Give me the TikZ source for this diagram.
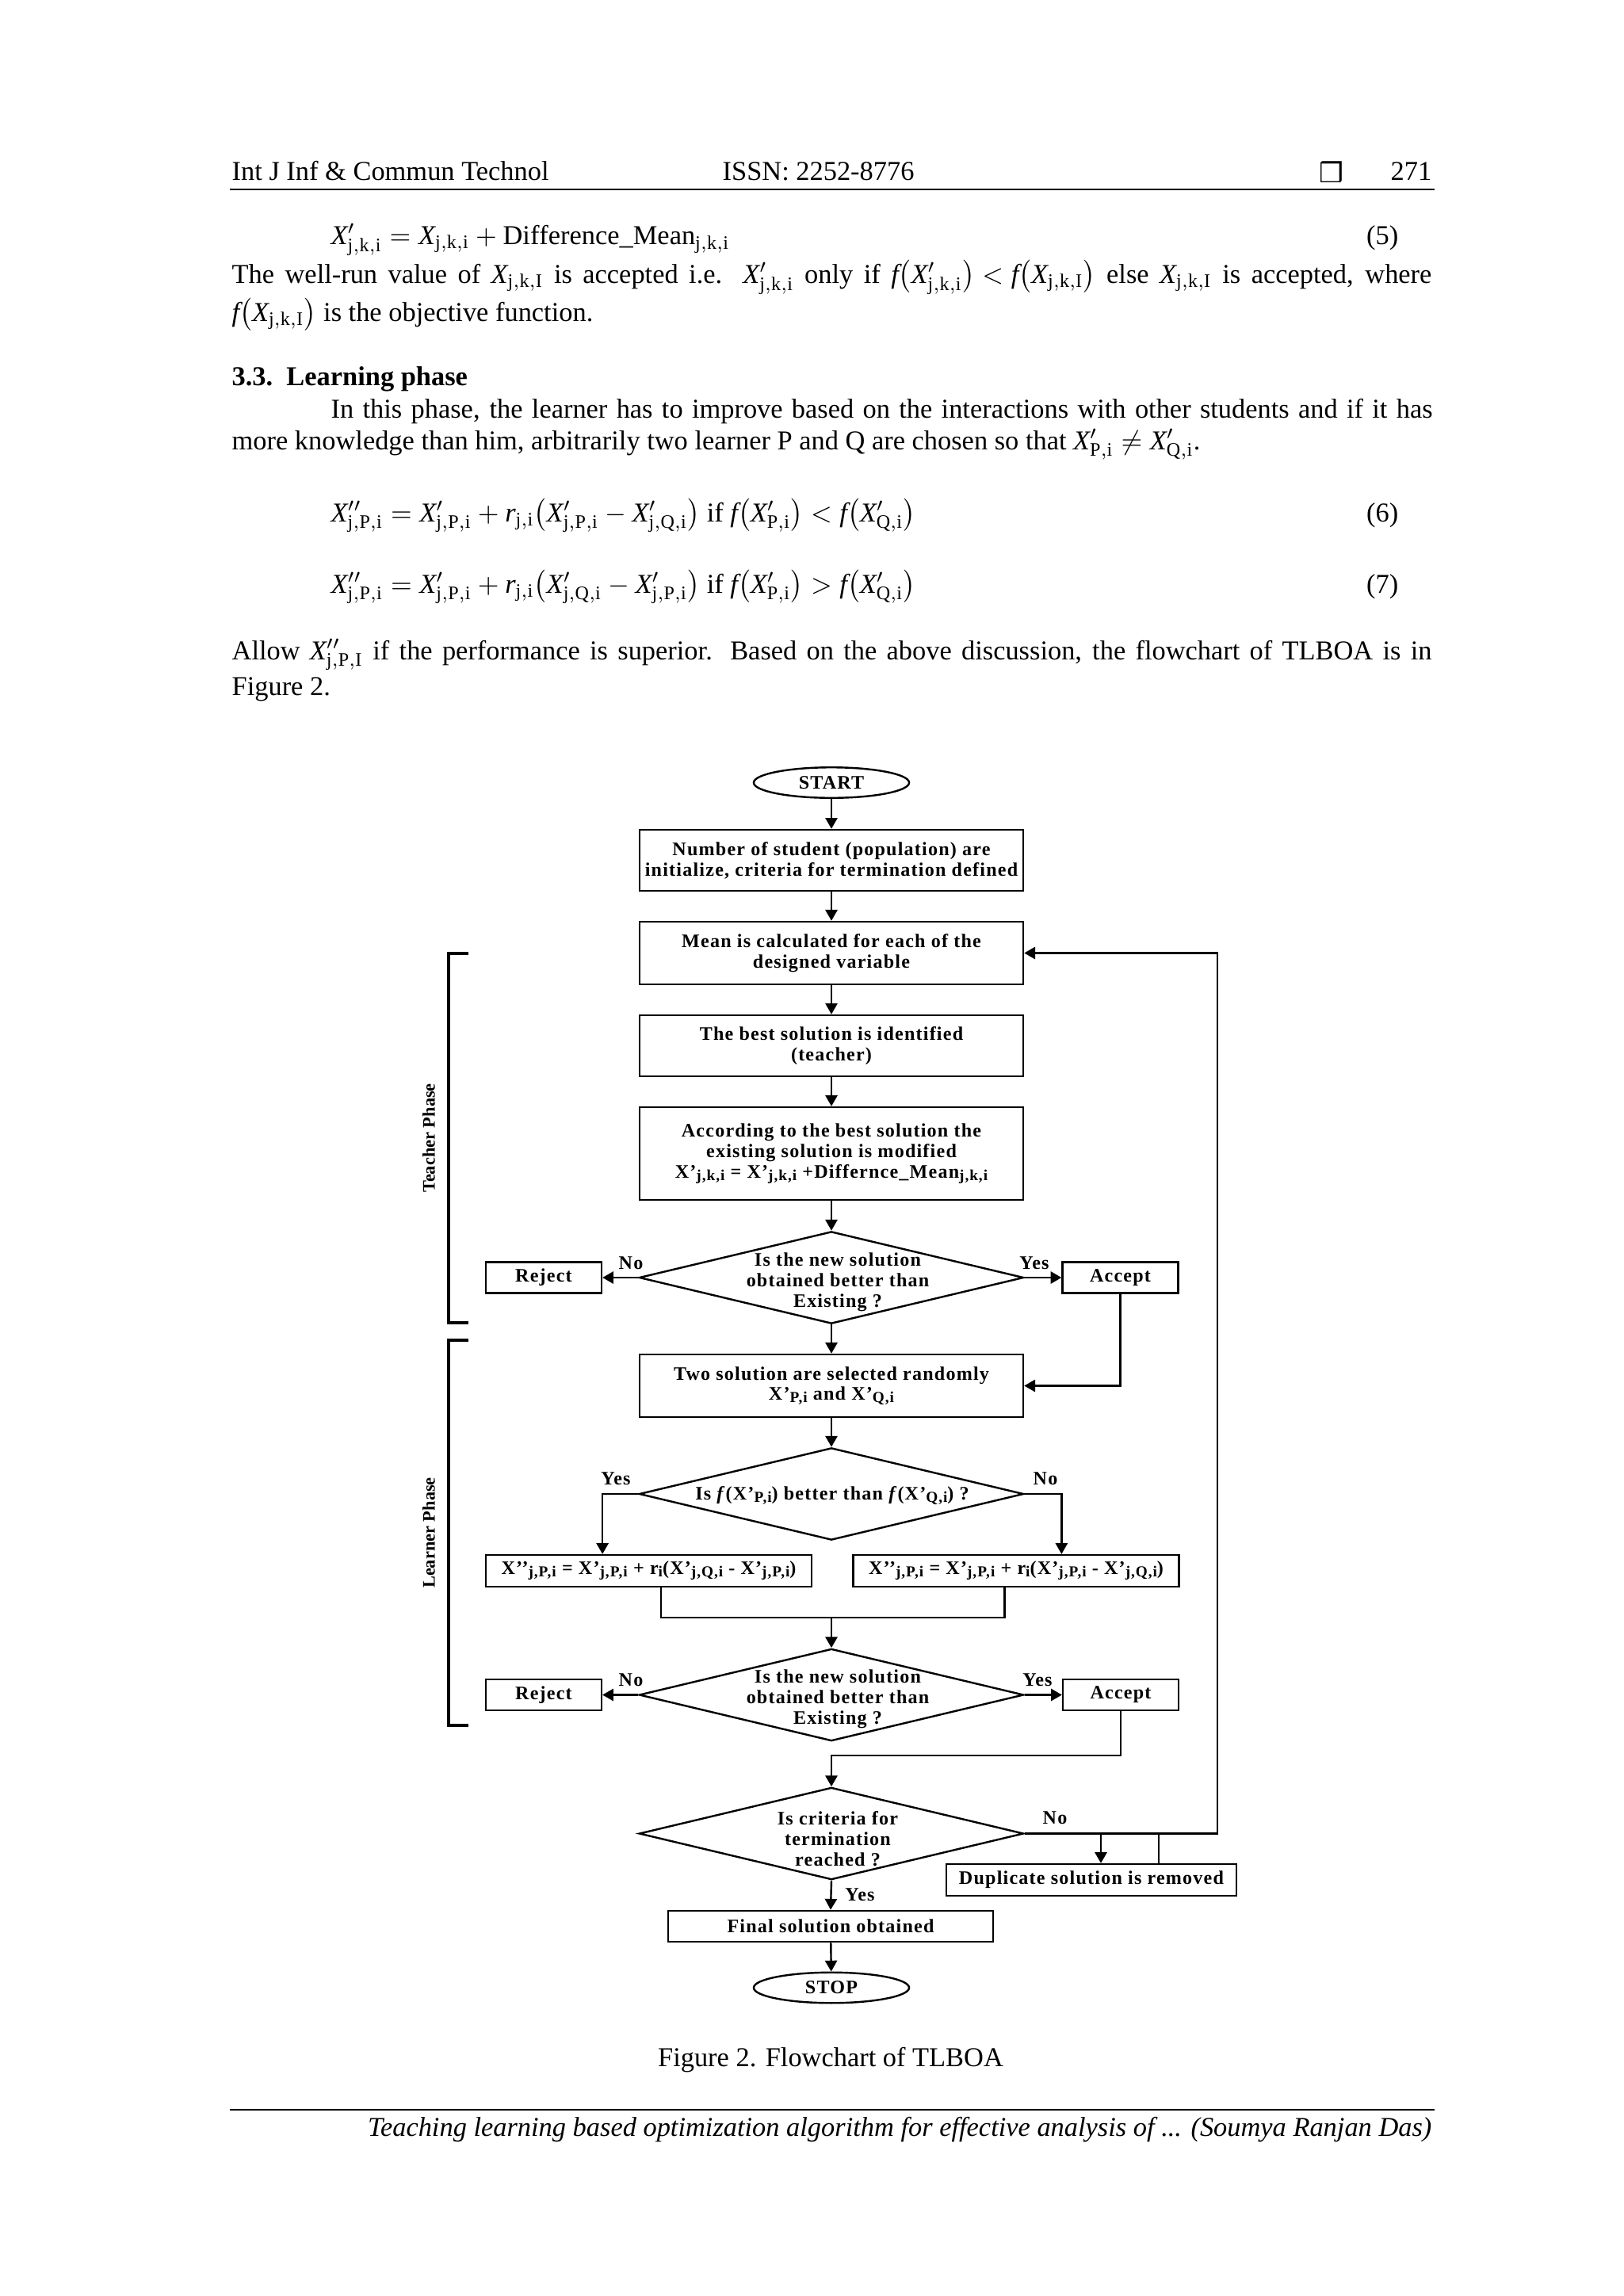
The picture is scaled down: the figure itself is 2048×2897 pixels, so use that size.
\documentclass[tikz,border=0pt]{standalone}
\usepackage{fontspec}
\setmainfont{Liberation Serif}
\newfontfamily\fcfont[LetterSpace=5]{Liberation Serif}
\newfontfamily\symfont{DejaVu Sans}
\usetikzlibrary{arrows.meta,calc,shapes.geometric}
\newcommand\fsb[1]{\raisebox{-0.8pt}{\fontsize{5.6}{6}\selectfont #1}}
\newcommand\mX{\mathit{X}}
\newcommand\mf{\mathit{f}}
\newcommand\mr{\mathit{r}}
\newcommand\lineclip[1]{\raisebox{0pt}[7pt][2pt]{#1}}
\begin{document}
\begin{tikzpicture}[x=0.29067pt,y=-0.29067pt,
  fc/.style={font=\fcfont\bfseries\fontsize{7}{7.5}\selectfont, align=center, inner sep=0pt},
  box/.style={fc, draw, line width=0.7pt},
  dia/.style={shape=diamond, draw, line width=0.7pt, inner sep=0pt, minimum width=141pt, minimum height=33.8pt},
  term/.style={fc, shape=ellipse, draw, line width=0.7pt, minimum width=57pt, minimum height=11.2pt},
  arr/.style={-{Triangle[length=4pt,width=4.4pt]}, line width=0.7pt},
  ln/.style={line width=0.7pt},
  body/.style={font=\fontsize{10}{12}\selectfont, inner sep=0pt, anchor=base west},
  brk/.style={line width=0.9pt}
]
\fill[white] (0,0) rectangle (2048,2897);
\useasboundingbox (0,0) rectangle (2048,2897);

% ---------- header ----------
\node[body] (h1) at (292,227) {Int J Inf \& Commun Technol};
\node[body] (h2) at (911,227) {ISSN: 2252-8776};
\node[font=\symfont\fontsize{10}{12}\selectfont, inner sep=0pt] (h3) at (1680,217) {❒};
\node[body, anchor=base east] (h4) at (1807,227) {271};
\draw[line width=0.8pt] (290,239) -- (1810,239);

% ---------- text ----------
\node[body] (e5) at (417,308) {\lineclip{$\mX'_{\mathrm{j,k,i}} = \mX_{\mathrm{j,k,i}} + \mathrm{Difference\_Mean}_{\mathrm{j,k,i}}$}};
\node[body, anchor=base east] (n5) at (1765,308) {(5)};
\node[body] (t1) at (292,357) {\lineclip{\makebox[440pt][s]{The well-run value of \mbox{$\mX_{\mathrm{j,k,I}}$} is accepted i.e. \mbox{$\mX'_{\mathrm{j,k,i}}$} only if \mbox{$\mf\bigl(\mX'_{\mathrm{j,k,i}}\bigr) < \mf\bigl(\mX_{\mathrm{j,k,I}}\bigr)$} else \mbox{$\mX_{\mathrm{j,k,I}}$} is accepted, where}}};
\node[body] (t2) at (292,405) {\lineclip{$\mf\bigl(\mX_{\mathrm{j,k,I}}\bigr)$ is the objective function.}};
\node[body] (t3) at (292,486) {\textbf{3.3.\ \ Learning phase}};
\node[body] (t4) at (417,527) {\makebox[404pt][s]{In this phase, the learner has to improve based on the interactions with other students and if it has}};
\node[body] (t5) at (292,567) {\lineclip{more knowledge than him, arbitrarily two learner P and Q are chosen so that $\mX'_{\mathrm{P,i}} \neq \mX'_{\mathrm{Q,i}}$.}};
\node[body] (e6) at (417,658) {\lineclip{$\mX''_{\mathrm{j,P,i}} = \mX'_{\mathrm{j,P,i}} + \mr_{\mathrm{j,i}}\bigl(\mX'_{\mathrm{j,P,i}} - \mX'_{\mathrm{j,Q,i}}\bigr)$ if $\mf\bigl(\mX'_{\mathrm{P,i}}\bigr) < \mf\bigl(\mX'_{\mathrm{Q,i}}\bigr)$}};
\node[body, anchor=base east] (n6) at (1765,658) {(6)};
\node[body] (e7) at (417,748) {\lineclip{$\mX''_{\mathrm{j,P,i}} = \mX'_{\mathrm{j,P,i}} + \mr_{\mathrm{j,i}}\bigl(\mX'_{\mathrm{j,Q,i}} - \mX'_{\mathrm{j,P,i}}\bigr)$ if $\mf\bigl(\mX'_{\mathrm{P,i}}\bigr) > \mf\bigl(\mX'_{\mathrm{Q,i}}\bigr)$}};
\node[body, anchor=base east] (n7) at (1765,748) {(7)};
\node[body] (t6) at (292,832) {\lineclip{\makebox[440pt][s]{Allow \mbox{$\mX''_{\mathrm{j,P,I}}$} if the performance is superior. Based on the above discussion, the flowchart of TLBOA is in}}};
\node[body] (t7) at (292,877) {Figure 2.};

% ---------- flowchart ----------
\node[term] (start) at (1049,987.5) {START};
\node[box, minimum width=140.7pt, minimum height=22.4pt] (b1) at (1049,1085.5) {Number of student (population) are\\initialize, criteria for termination defined};
\node[box, minimum width=140.7pt, minimum height=23pt] (b2) at (1049,1202.5) {Mean is calculated for each of the\\designed variable};
\node[box, minimum width=140.7pt, minimum height=22.4pt] (b3) at (1049,1319.5) {The best solution is identified\\(teacher)};
\node[box, minimum width=140.7pt, minimum height=34pt] (b4) at (1049,1455.5) {According to the best solution the\\existing solution is modified\\X’\fsb{j,k,i} = X’\fsb{j,k,i} +Differnce\_Mean\fsb{j,k,i}};
\node[dia] (d1) at (1049,1612) {};
\node[fc] (d1t) at (1057,1618) {Is the new solution\\obtained better than\\Existing ?};
\node[box, minimum width=42.4pt, minimum height=11.4pt] (rej1) at (686,1612) {Reject};
\node[box, minimum width=42.4pt, minimum height=11.4pt] (acc1) at (1413.5,1612) {Accept};
\node[box, minimum width=140.7pt, minimum height=23pt] (b5) at (1049,1748.5) {Two solution are selected randomly\\X’\fsb{P,i} and X’\fsb{Q,i}};
\node[dia] (d2) at (1049,1885) {};
\node[fc] (d2t) at (1050,1887) {Is \textit{f}(X’\fsb{P,i}) better than \textit{f}(X’\fsb{Q,i}) ?};
\node[box, minimum width=119.4pt, minimum height=11.6pt] (b6) at (818.5,1982) {X’’\fsb{j,P,i} = X’\fsb{j,P,i} + r\fsb{i}(X’\fsb{j,Q,i} - X’\fsb{j,P,i})};
\node[box, minimum width=119.4pt, minimum height=11.6pt] (b7) at (1282,1982) {X’’\fsb{j,P,i} = X’\fsb{j,P,i} + r\fsb{i}(X’\fsb{j,P,i} - X’\fsb{j,Q,i})};
\node[dia] (d3) at (1049,2138.5) {};
\node[fc] (d3t) at (1057,2144) {Is the new solution\\obtained better than\\Existing ?};
\node[box, minimum width=42.4pt, minimum height=11.4pt] (rej2) at (686,2138.5) {Reject};
\node[box, minimum width=42.4pt, minimum height=11.4pt] (acc2) at (1414,2138.5) {Accept};
\node[dia] (d4) at (1049,2313.5) {};
\node[fc] (d4t) at (1057,2320) {Is criteria for\\termination\\reached ?};
\node[box, minimum width=106.4pt, minimum height=11.6pt] (dup) at (1377,2372) {Duplicate solution is removed};
\node[box, minimum width=119.2pt, minimum height=11.4pt] (fin) at (1048,2430.5) {Final solution obtained};
\node[term] (stop) at (1049,2508) {STOP};

% labels
\node[fc] (l1) at (796,1594) {No};
\node[fc] (l2) at (1305,1594) {Yes};
\node[fc] (l3) at (777,1866) {Yes};
\node[fc] (l4) at (1319,1866) {No};
\node[fc] (l5) at (796,2120) {No};
\node[fc] (l6) at (1309,2120) {Yes};
\node[fc] (l7) at (1331,2294) {No};
\node[fc] (l8) at (1085,2391) {Yes};

% connectors
\draw[arr] (start) -- (b1);
\draw[arr] (b1) -- (b2);
\draw[arr] (b2) -- (b3);
\draw[arr] (b3) -- (b4);
\draw[arr] (b4) -- (d1.north);
\draw[arr] (d1.west) -- (rej1.east);
\draw[arr] (d1.east) -- (acc1.west);
\draw[arr] (d1.south) -- (b5.north);
\draw[arr] (acc1.south) |- (b5.east);
\draw[arr] (b5) -- (d2.north);
\draw[arr] (d2.west) -| (b6.north -| rej1.east);
\draw[arr] (d2.east) -| (b7.north -| acc1.west);
\coordinate (b6o) at ($(b6.south west)+(222,0)$);
\coordinate (b7o) at ($(b7.south west)+(192,0)$);
\coordinate (mrg) at (1049,2041);
\draw[ln] (b6o) |- (mrg) -| (b7o);
\draw[arr] (mrg) -- (d3.north);
\draw[arr] (d3.west) -- (rej2.east);
\draw[arr] (d3.east) -- (acc2.west);
\draw[arr] (acc2.south) |- ($(d4.north)+(0,-39)$) -- (d4.north);
\draw[arr] (d4.east) -| ($(b2.east)+(244,0)$) -- (b2.east);
\coordinate (dupin) at ($(dup.north)+(12,0)$);
\coordinate (dupout) at ($(dup.north)+(85,0)$);
\draw[arr] (dupin |- d4.east) -- (dupin);
\draw[ln] (dupout) -- (dupout |- d4.east);
\draw[arr] (d4.south) -- (fin.north);
\draw[arr] (fin) -- (stop);

% phase brackets
\draw[brk] (591,1203) -- (566,1203) -- (566,1669) -- (591,1669);
\draw[brk] (591,1691) -- (566,1691) -- (566,2177) -- (591,2177);
\node[font=\bfseries\fontsize{6.5}{7}\selectfont, rotate=90, inner sep=0pt] (tp) at (541,1436) {Teacher Phase};
\node[font=\bfseries\fontsize{6.5}{7}\selectfont, rotate=90, inner sep=0pt] (lp) at (541,1934) {Learner Phase};

% ---------- caption & footer ----------
\node[body, anchor=base] (cap) at (1048,2607) {Figure 2. Flowchart of TLBOA};
\draw[line width=0.8pt] (290,2662) -- (1810,2662);
\node[body, anchor=base east] (ft) at (1807,2695) {\itshape Teaching learning based optimization algorithm for effective analysis of ... (Soumya Ranjan Das)};
\end{tikzpicture}
\end{document}
